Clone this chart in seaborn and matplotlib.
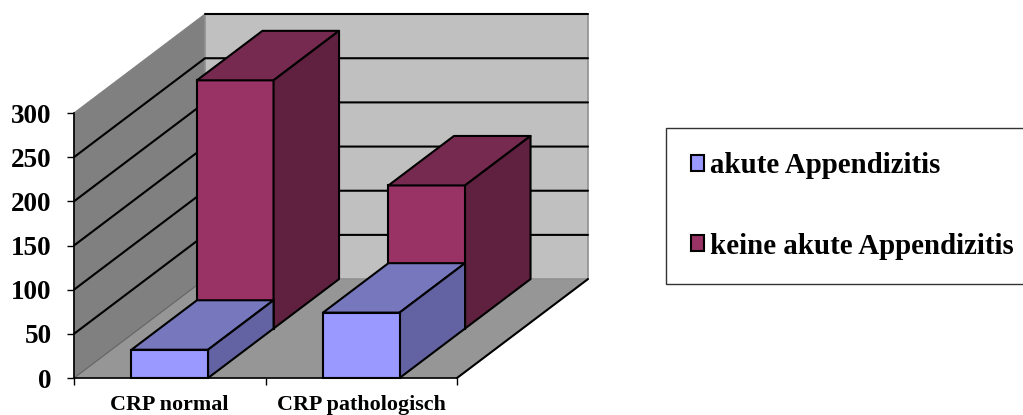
import matplotlib
matplotlib.use("Agg")
import matplotlib.pyplot as plt
import seaborn as sns
from matplotlib.patches import Patch, Polygon

categories = ["CRP normal", "CRP pathologisch"]
akute = [32, 74]
keine = [281, 162]
yticks = [0, 50, 100, 150, 200, 250, 300]
series_labels = ["akute Appendizitis", "keine akute Appendizitis"]

# oblique depth of the whole chart box, in data units
DEPTH_X = 0.684
DEPTH_Y = 112
BAR_W = 0.4
LINE = 1.5

sns.set_theme(style="white")
plt.rcParams["font.family"] = ["Liberation Serif", "DejaVu Serif"]
plt.rcParams["font.weight"] = "bold"

fig = plt.figure(figsize=(10.23, 4.15), dpi=100)
ax = fig.add_axes([74 / 1023, 37 / 415, 383 / 1023, 265 / 415])
ax.patch.set_visible(False)


def face(points, color, z, edge="black", lw=LINE):
    ax.add_patch(Polygon(points, closed=True, facecolor=color, edgecolor=edge, linewidth=lw,
                         zorder=z, clip_on=False, joinstyle="round"))


def box_faces(patch, top_color, side_color, z):
    # top and side face for a front rectangle drawn by seaborn
    x0, y0 = patch.get_x(), patch.get_y()
    x1, y1 = x0 + patch.get_width(), y0 + patch.get_height()
    dx, dy = DEPTH_X / 2, DEPTH_Y / 2
    face([(x0, y1), (x1, y1), (x1 + dx, y1 + dy), (x0 + dx, y1 + dy)], top_color, z)
    face([(x1, y0), (x1, y1), (x1 + dx, y1 + dy), (x1 + dx, y0 + dy)], side_color, z)


# walls and floor
left, right = -0.5, 1.5
top = yticks[-1]
face([(left, 0), (left + DEPTH_X, DEPTH_Y), (right + DEPTH_X, DEPTH_Y), (right, 0)], "#969696", 1, edge="#969696", lw=0.5)
face([(left, 0), (left, top), (left + DEPTH_X, top + DEPTH_Y), (left + DEPTH_X, DEPTH_Y)], "#808080", 1, edge="#808080", lw=0.8)
face([(left + DEPTH_X, DEPTH_Y), (left + DEPTH_X, top + DEPTH_Y), (right + DEPTH_X, top + DEPTH_Y), (right + DEPTH_X, DEPTH_Y)],
     "#C0C0C0", 1, edge="#909090", lw=1.2)
for v in yticks[1:-1]:
    ax.plot([left, left + DEPTH_X, right + DEPTH_X], [v, v + DEPTH_Y, v + DEPTH_Y],
            color="black", lw=LINE, zorder=2, clip_on=False, solid_joinstyle="miter")
ax.plot([left + DEPTH_X, right + DEPTH_X], [top + DEPTH_Y, top + DEPTH_Y], color="black", lw=LINE, zorder=2, clip_on=False)
ax.plot([right, right + DEPTH_X], [0, DEPTH_Y], color="black", lw=LINE, zorder=2, clip_on=False)
ax.plot([left, left + DEPTH_X], [0, DEPTH_Y], color="#666666", lw=0.8, zorder=2, clip_on=False)

# back row first, then shift it half the depth
n = len(ax.patches)
sns.barplot(x=categories, y=keine, color="#993366", saturation=1, width=BAR_W, edgecolor="black",
            linewidth=LINE, zorder=3, ax=ax)
red_bars = ax.patches[n:]
for b in red_bars:
    b.set_x(b.get_x() + DEPTH_X / 2)
    b.set_y(b.get_y() + DEPTH_Y / 2)
    b.set_clip_on(False)
    box_faces(b, "#762A4F", "#60203F", 3)

n = len(ax.patches)
sns.barplot(x=categories, y=akute, color="#9999FF", saturation=1, width=BAR_W, edgecolor="black",
            linewidth=LINE, zorder=5, ax=ax)
for b in ax.patches[n:]:
    b.set_clip_on(False)
    box_faces(b, "#7777BE", "#6363A3", 4)

ax.set_xlim(left, right)
ax.set_ylim(0, top)
ax.set_yticks(yticks)
ax.set_xticks([left, 0.5, right], minor=True)
ax.tick_params(axis="x", which="major", length=0, pad=12, labelsize=15.8, labelcolor="black")
ax.tick_params(axis="x", which="minor", length=5, width=1, color="black", bottom=True)
ax.tick_params(axis="y", length=5, width=1, color="black", left=True, labelsize=19.5, pad=11, labelcolor="black")
for lab in ax.get_xticklabels() + ax.get_yticklabels():
    lab.set_fontweight("bold")
sns.despine(ax=ax, top=True, right=True)
for s in ["left", "bottom"]:
    ax.spines[s].set_color("black")
    ax.spines[s].set_linewidth(1.2)
    ax.spines[s].set_zorder(6)

handles = [Patch(facecolor="#9999FF", edgecolor="black", linewidth=LINE),
           Patch(facecolor="#993366", edgecolor="black", linewidth=LINE)]
leg = ax.legend(handles, series_labels, loc="center left", bbox_to_anchor=(666 / 1023, 1 - 206 / 415),
                bbox_transform=fig.transFigure, frameon=True, fancybox=False, edgecolor="#333333", framealpha=1,
                prop={"size": 20.8, "weight": "bold"}, labelcolor="black", handlelength=0.48, handleheight=0.48,
                handletextpad=0.2, labelspacing=1.85, borderpad=0.85, borderaxespad=0)
leg.get_frame().set_linewidth(1)
leg.set_zorder(10)

fig.savefig("out.png", dpi=100)
